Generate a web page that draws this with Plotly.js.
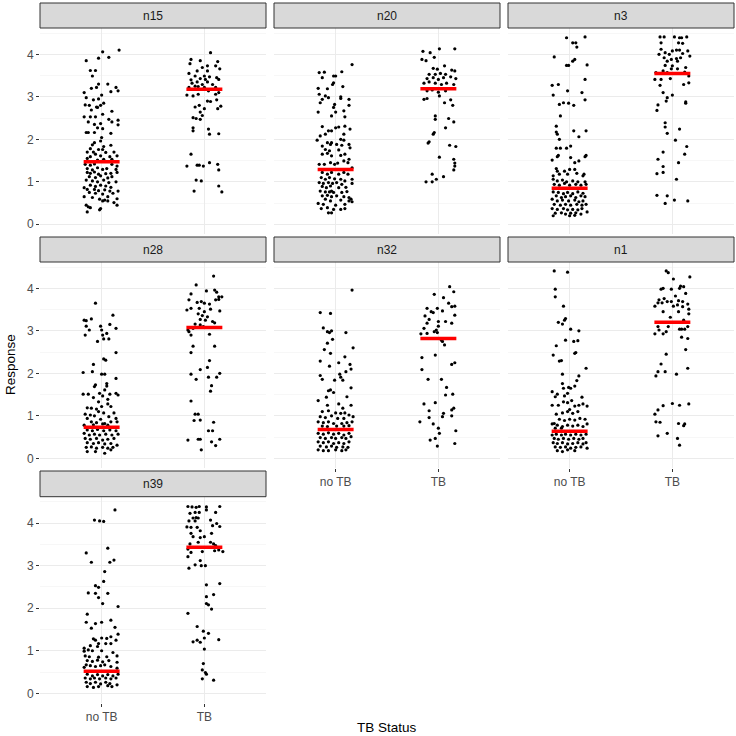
<!DOCTYPE html>
<html><head><meta charset="utf-8">
<script src="https://cdn.plot.ly/plotly-3.0.1.min.js"></script>
<style>html,body{margin:0;padding:0;background:#fff}#chart{width:736px;height:736px}</style>
</head><body><div id="chart"></div>
<script>
// ---- DATA: [jitter offset, response] per group ----
const categories = ["no TB", "TB"];
const panelNames = ["n15", "n20", "n3", "n28", "n32", "n1", "n39"];
const yTicks = [0, 1, 2, 3, 4];
const meanNoTB = [1.47, 1.29, 0.85, 0.73, 0.68, 0.64, 0.52];
const meanTB   = [3.18, 3.19, 3.55, 3.08, 2.82, 3.20, 3.43];

const n15_noTB = [[0.17,4.10],[0.01,4.06],[-0.03,3.91],[0.07,3.93],[-0.15,3.85],[-0.11,3.62],[-0.06,3.62],[-0.09,3.49],[0.06,3.30],[-0.03,3.30],[-0.10,3.20],[-0.05,3.22],[0.14,3.22],[0.16,3.14],[0.09,3.12],[-0.17,3.10],[0.00,3.04],[-0.15,2.98],[-0.03,2.95],[-0.08,2.93],[0.02,2.85],[-0.16,2.81],[-0.12,2.80],[-0.05,2.76],[-0.01,2.80],[-0.10,2.69],[-0.04,2.75],[0.10,2.66],[0.01,2.59],[-0.17,2.53],[-0.11,2.53],[-0.06,2.53],[0.07,2.47],[0.16,2.45],[0.10,2.41],[-0.13,2.41],[-0.01,2.37],[-0.07,2.35],[0.16,2.34],[-0.04,2.27],[0.01,2.25],[-0.15,2.16],[-0.13,2.16],[0.09,2.14],[-0.07,2.16],[0.00,2.04],
[-0.07,1.92],[-0.09,1.87],[-0.01,1.96],[0.02,1.83],[0.09,1.86],[-0.11,1.78],[-0.03,1.76],[0.01,1.76],[-0.14,1.70],[-0.08,1.70],[0.04,1.69],[0.12,1.70],[-0.06,1.65],[-0.01,1.61],[0.08,1.59],[0.15,1.61],[-0.11,1.59],[-0.14,1.55],[0.02,1.53],[0.10,1.53],[-0.04,1.51],
[-0.16,1.41],[-0.11,1.39],[-0.07,1.42],[0.10,1.41],[0.15,1.37],[-0.14,1.31],[-0.09,1.28],[-0.04,1.33],[0.01,1.29],[0.05,1.31],[0.14,1.29],[-0.14,1.22],[-0.11,1.20],[-0.07,1.23],[-0.03,1.18],[0.04,1.19],[0.09,1.20],[0.15,1.22],[-0.12,1.12],[-0.06,1.10],[-0.01,1.14],[0.06,1.09],[0.10,1.12],[-0.15,1.04],[-0.09,1.02],[-0.04,1.00],[0.02,1.04],[0.07,0.98],[0.14,1.00],[-0.11,0.92],[-0.06,0.89],[-0.01,0.92],[0.04,0.90],[0.09,0.87],[-0.17,0.86],[-0.14,0.82],[-0.07,0.82],[-0.03,0.79],[0.03,0.81],[0.08,0.78],[0.16,0.78],[-0.12,0.75],[-0.06,0.73],[0.01,0.71],[0.11,0.73],[-0.17,0.65],[-0.09,0.63],[0.06,0.65],[0.15,0.60],[0.01,0.55],[0.03,0.57],[0.06,0.55],[-0.02,0.59],[0.15,0.45],[-0.15,0.45],[-0.13,0.41],[-0.01,0.37],[-0.02,0.34],[-0.14,0.29],[-0.11,0.39],[0.12,0.51]];
const n15_TB = [[0.06,4.04],[-0.13,3.88],[-0.04,3.85],[0.13,3.83],[-0.14,3.78],[0.03,3.73],[0.11,3.73],[-0.02,3.69],[0.15,3.66],[-0.07,3.61],[0.03,3.61],[-0.15,3.55],[-0.09,3.49],[0.00,3.49],[0.05,3.47],[0.12,3.45],[-0.04,3.43],[-0.13,3.40],[0.01,3.41],[-0.07,3.35],[0.14,3.41],[-0.12,3.32],[-0.02,3.29],[0.08,3.29],[0.03,3.35],[-0.06,3.24],[0.11,3.22],[-0.15,3.22],[-0.09,3.25],[0.00,3.22],[0.04,3.14],[-0.06,3.06],[-0.17,3.04],[-0.11,3.02],[0.11,3.06],[0.14,3.10],[0.16,2.78],[0.03,2.90],[0.06,2.89],[0.12,2.93],[-0.09,2.76],[-0.05,2.80],[0.13,2.72],[0.00,2.72],[-0.04,2.64],[-0.02,2.56],[-0.11,2.51],[-0.08,2.49],[-0.04,2.47],[-0.11,2.27],[-0.11,2.20],[0.04,2.24],[0.05,2.12],[0.14,2.13],[-0.13,1.65],[-0.17,1.37],[-0.07,1.39],[-0.05,1.39],[-0.01,1.37],[0.05,1.45],[0.13,1.41],[0.14,1.28],[-0.08,1.04],[-0.03,1.02],[0.14,0.90],[-0.10,0.78],[0.17,0.76]];

const n20_noTB = [[0.16,3.76],[0.06,3.59],[-0.16,3.57],[-0.11,3.58],[-0.13,3.45],[-0.02,3.49],[0.00,3.49],[-0.03,3.29],[-0.02,3.33],[0.07,3.24],[-0.08,3.19],[-0.17,3.20],[-0.16,3.06],[-0.10,3.02],[-0.07,2.98],[0.05,3.00],[0.05,2.96],[-0.13,2.94],[0.13,2.94],[-0.15,2.86],[-0.01,2.82],[0.13,2.80],[-0.02,2.75],[-0.17,2.64],[0.00,2.64],[0.08,2.67],[-0.04,2.55],[0.09,2.53],[-0.13,2.30],[0.03,2.29],[0.00,2.27],[0.09,2.31],[0.14,2.24],[-0.07,2.20],[-0.04,2.20],[-0.10,2.12],[-0.15,2.08],[0.08,2.12],[-0.18,1.98],[0.05,2.00],[0.08,1.98],[-0.08,1.92],[-0.05,1.88],[-0.04,1.92],[-0.13,1.84],[0.01,1.88],[0.06,1.86],[0.13,1.88],[-0.10,1.76],[-0.06,1.73],[0.03,1.75],[0.14,1.80],[-0.13,1.65],[-0.08,1.67],[0.09,1.65],[-0.04,1.61],[0.05,1.62],[0.13,1.53],[-0.05,1.45],[0.08,1.49],[0.12,1.45],[-0.16,1.41],[-0.11,1.41],[-0.01,1.41],[0.02,1.44],[0.16,1.33],[-0.13,1.22],[-0.08,1.18],[-0.04,1.22],[0.03,1.18],[0.08,1.22],[0.12,1.18],[-0.14,1.10],[-0.10,1.06],[-0.06,1.10],[-0.01,1.07],[0.05,1.06],[0.16,1.06],[0.09,1.02],[-0.16,0.98],[-0.12,0.96],[-0.07,0.98],[-0.03,0.96],[0.01,0.98],[0.06,0.94],[0.16,0.96],[-0.13,0.89],[-0.09,0.86],[-0.05,0.90],[0.03,0.86],[0.10,0.87],[-0.15,0.78],[-0.10,0.76],[-0.06,0.76],[-0.04,0.78],[-0.02,0.75],[0.06,0.75],[0.11,0.77],[-0.13,0.67],[-0.08,0.68],[-0.04,0.65],[0.01,0.67],[0.08,0.65],[0.13,0.63],[0.15,0.59],[0.16,0.53],[0.13,0.55],[-0.10,0.59],[-0.05,0.55],[0.05,0.57],[-0.17,0.49],[-0.12,0.47],[0.00,0.45],[0.09,0.47],[-0.14,0.37],[-0.08,0.39],[-0.02,0.35],[0.05,0.35],[0.09,0.37],[-0.07,0.27],[-0.04,0.27]];
const n20_TB = [[0.01,4.13],[0.16,4.13],[-0.15,4.07],[-0.08,4.04],[-0.04,3.93],[-0.16,3.88],[-0.12,3.85],[0.06,3.73],[-0.05,3.67],[-0.01,3.65],[0.13,3.63],[0.16,3.61],[-0.09,3.53],[-0.03,3.53],[0.02,3.55],[0.07,3.53],[-0.11,3.43],[-0.05,3.45],[0.00,3.41],[0.05,3.45],[0.12,3.47],[0.17,3.43],[-0.14,3.32],[-0.09,3.35],[-0.03,3.32],[0.03,3.29],[0.08,3.32],[0.15,3.29],[-0.11,3.14],[-0.06,3.16],[0.00,3.11],[0.07,3.14],[0.01,3.02],[-0.14,2.94],[-0.11,2.96],[0.06,2.86],[0.12,2.93],[0.14,2.80],[-0.03,2.55],[-0.03,2.47],[0.10,2.49],[0.15,2.41],[0.07,2.27],[-0.04,2.16],[-0.05,2.12],[-0.09,1.94],[-0.10,1.91],[0.11,1.86],[0.17,1.83],[0.01,1.58],[0.15,1.53],[0.16,1.44],[0.16,1.37],[0.15,1.28],[-0.06,1.18],[-0.02,1.06],[0.05,1.12],[-0.12,1.00],[-0.06,1.00]];

const n3_noTB = [[-0.03,4.39],[0.15,4.41],[0.03,4.27],[0.06,4.27],[0.07,4.17],[-0.15,3.94],[0.05,3.88],[0.03,3.84],[-0.03,3.74],[-0.01,3.74],[0.17,3.75],[0.15,3.41],[-0.17,3.27],[-0.11,3.29],[-0.02,3.14],[0.12,3.10],[-0.16,3.04],[0.15,2.93],[-0.10,2.82],[-0.06,2.86],[-0.01,2.85],[0.04,2.80],[-0.09,2.55],[-0.13,2.31],[-0.13,2.17],[-0.12,2.12],[-0.10,2.00],[0.04,2.20],[0.09,2.06],[0.16,2.20],[-0.13,1.79],[-0.09,1.79],[-0.03,1.79],[0.01,1.84],[-0.11,1.62],[-0.12,1.59],[0.16,1.62],[0.15,1.59],[-0.17,1.51],[0.01,1.57],[0.09,1.49],[0.05,1.45],[-0.13,1.31],[-0.12,1.25],[-0.05,1.25],[0.00,1.29],[0.05,1.29],[-0.02,1.18],[0.07,1.20],[0.13,1.14],[-0.16,1.14],[-0.10,1.18],[0.14,1.18],
[-0.16,1.06],[-0.12,1.02],[-0.07,1.04],[-0.03,1.00],[0.03,1.02],[0.08,1.00],[0.15,1.00],[-0.15,0.94],[-0.10,0.92],[-0.05,0.96],[0.00,0.92],[0.06,0.94],[0.11,0.92],[0.16,0.94],[-0.16,0.76],[-0.11,0.75],[-0.06,0.72],[-0.02,0.75],[0.03,0.72],[0.08,0.76],[0.13,0.73],[-0.13,0.67],[-0.08,0.63],[-0.04,0.65],[0.01,0.67],[0.06,0.63],[0.11,0.67],[0.15,0.65],[-0.17,0.59],[-0.12,0.55],[-0.07,0.57],[-0.01,0.55],[0.05,0.57],[0.09,0.53],[0.13,0.55],[-0.15,0.47],[-0.09,0.45],[-0.04,0.47],[0.01,0.45],[0.07,0.47],[0.12,0.45],[0.16,0.47],[-0.17,0.37],[-0.12,0.35],[-0.06,0.37],[-0.02,0.34],[0.03,0.35],[0.08,0.34],[0.12,0.37],[0.17,0.29],[-0.14,0.26],[-0.08,0.27],[-0.04,0.24],[0.01,0.26],[0.06,0.27],[0.11,0.24],[-0.16,0.20],[0.00,0.20],[0.05,0.21]];
const n3_TB = [[-0.12,4.41],[-0.08,4.41],[0.02,4.41],[0.07,4.39],[0.09,4.39],[0.14,4.41],[-0.11,4.27],[0.06,4.27],[0.10,4.26],[-0.11,4.12],[0.00,4.08],[0.04,4.10],[0.07,4.10],[0.15,4.08],[-0.13,4.00],[-0.07,4.04],[-0.03,4.00],[0.10,4.02],[0.17,3.96],[-0.08,3.92],[-0.01,3.88],[0.04,3.90],[0.08,3.92],[-0.05,3.84],[0.05,3.84],[-0.07,3.74],[0.00,3.73],[0.13,3.69],[-0.01,3.66],[0.05,3.66],[-0.09,3.61],[-0.16,3.57],[-0.05,3.57],[0.12,3.58],[0.16,3.49],[-0.17,3.41],[-0.11,3.41],[-0.02,3.43],[-0.12,3.27],[0.11,3.29],[0.16,3.33],[-0.09,3.10],[0.00,3.04],[-0.05,2.98],[-0.06,2.90],[0.13,2.88],[0.13,2.85],[-0.14,2.81],[-0.15,2.68],[-0.07,2.39],[-0.07,2.29],[-0.05,2.14],[0.07,2.24],[0.03,1.98],[0.14,1.83],[-0.09,1.70],[0.12,1.65],[-0.14,1.53],[0.06,1.45],[-0.09,1.36],[-0.15,1.19],[-0.09,1.22],[0.04,1.06],[-0.15,0.68],[-0.05,0.67],[-0.07,0.49],[0.02,0.57],[0.15,0.55]];

const n28_noTB = [[-0.06,3.65],[0.11,3.37],[-0.17,3.25],[-0.15,3.24],[-0.10,3.28],[-0.15,3.11],[-0.12,3.02],[-0.01,3.11],[0.08,3.15],[0.00,3.02],[0.05,2.94],[-0.16,2.90],[0.01,2.90],[0.14,3.06],[0.02,2.81],[0.07,2.81],[-0.04,2.75],[0.14,2.49],[0.02,2.34],[0.04,2.31],[-0.08,2.21],[-0.18,2.02],[-0.09,2.04],[0.00,1.98],[0.03,1.98],[0.14,1.88],[0.05,1.76],[-0.07,1.69],[-0.06,1.73],[0.05,1.70],[0.03,1.61],[-0.18,1.51],[-0.13,1.51],[-0.02,1.53],[0.01,1.47],[0.08,1.51],[0.16,1.49],[0.14,1.53],[-0.08,1.43],[-0.03,1.33],[0.06,1.39],[-0.14,1.19],[-0.10,1.18],[-0.05,1.16],[0.00,1.22],[0.06,1.28],[0.09,1.22],[-0.03,1.10],[0.02,1.07],[-0.16,1.04],[-0.11,1.02],[-0.07,1.00],[0.12,1.07],[0.07,0.98],[-0.14,0.94],[-0.01,0.92],[0.14,0.94],[0.15,0.86],[-0.10,0.86],[-0.05,0.84],[0.03,0.82],[0.09,0.86],[-0.17,0.78],[-0.08,0.79],[0.01,0.81],[0.06,0.78],
[-0.14,0.67],[-0.09,0.65],[-0.04,0.68],[0.02,0.65],[0.08,0.67],[0.14,0.65],[-0.17,0.59],[-0.12,0.55],[-0.07,0.57],[-0.02,0.55],[0.04,0.57],[0.10,0.55],[0.16,0.57],[-0.16,0.47],[-0.11,0.45],[-0.05,0.47],[0.01,0.43],[0.06,0.45],[0.12,0.47],[-0.14,0.37],[-0.08,0.35],[-0.03,0.37],[0.03,0.34],[0.09,0.35],[0.15,0.31],[-0.15,0.26],[-0.10,0.27],[-0.05,0.24],[0.01,0.26],[0.06,0.24],[0.11,0.26],[-0.14,0.16],[-0.06,0.16],[0.03,0.12],[0.09,0.20]];
const n28_TB = [[0.09,4.29],[-0.08,4.08],[-0.13,3.87],[0.02,3.94],[0.10,3.96],[0.12,3.91],[-0.15,3.73],[0.14,3.80],[0.17,3.80],[-0.07,3.67],[-0.03,3.69],[0.00,3.65],[0.05,3.63],[0.11,3.73],[0.14,3.74],[-0.17,3.49],[-0.13,3.53],[-0.05,3.53],[0.00,3.45],[0.06,3.51],[0.15,3.47],[-0.06,3.40],[-0.02,3.36],[0.03,3.33],[-0.04,3.27],[0.01,3.25],[0.08,3.22],[0.10,3.19],[-0.09,3.16],[-0.04,3.14],[-0.01,3.10],[-0.11,3.06],[-0.16,3.02],[-0.15,2.98],[-0.13,2.90],[0.05,2.92],[-0.11,2.64],[0.10,2.64],[-0.13,2.49],[0.05,2.30],[-0.04,2.09],[0.03,2.14],[-0.13,1.98],[-0.08,1.86],[0.04,1.91],[0.12,1.91],[0.15,2.00],[0.07,1.71],[0.06,1.58],[-0.13,1.35],[-0.09,1.04],[-0.06,1.04],[-0.10,0.89],[-0.04,0.90],[0.09,0.85],[0.04,0.65],[0.08,0.65],[-0.16,0.43],[-0.06,0.45],[-0.04,0.45],[0.07,0.39],[0.15,0.45],[0.11,0.30],[-0.03,0.20]];

const n32_noTB = [[0.16,3.96],[-0.15,3.43],[-0.05,3.41],[-0.12,3.07],[-0.08,2.98],[-0.06,2.96],[-0.04,3.00],[0.10,2.96],[-0.03,2.80],[-0.08,2.71],[-0.11,2.56],[-0.05,2.47],[0.17,2.60],[-0.15,2.29],[-0.06,2.17],[0.03,2.25],[0.09,2.39],[0.14,2.21],[0.15,2.10],[-0.15,1.95],[-0.13,1.86],[-0.01,1.84],[0.04,1.98],[0.05,1.91],[0.10,2.04],[0.07,1.84],[0.15,1.66],[-0.07,1.59],[-0.05,1.61],[-0.02,1.55],[-0.09,1.44],[-0.17,1.36],[0.11,1.45],[-0.08,1.25],[0.03,1.28],[0.07,1.18],[0.15,1.25],[-0.13,1.10],[-0.07,1.12],[0.00,1.07],[0.05,1.06],[0.09,1.07],[0.13,1.02],[0.17,0.98],[-0.15,0.98],[-0.10,0.96],[-0.04,1.00],[0.02,0.94],[0.08,0.94],[-0.17,0.86],[-0.12,0.84],[-0.07,0.86],[-0.02,0.82],[0.06,0.82],[0.11,0.84],[0.16,0.86],[-0.13,0.76],[-0.08,0.75],[0.01,0.76],[0.08,0.76],[0.13,0.77],
[-0.17,0.59],[-0.12,0.57],[-0.07,0.60],[-0.02,0.57],[0.03,0.59],[0.08,0.55],[0.13,0.59],[-0.15,0.49],[-0.10,0.47],[-0.04,0.49],[0.00,0.47],[0.06,0.49],[0.10,0.47],[0.15,0.51],[-0.17,0.39],[-0.12,0.37],[-0.07,0.39],[-0.02,0.35],[0.03,0.37],[0.08,0.35],[0.13,0.39],[-0.15,0.29],[-0.09,0.27],[-0.04,0.29],[0.01,0.26],[0.07,0.27],[0.12,0.26],[-0.17,0.20],[-0.12,0.18],[-0.07,0.18],[0.00,0.20],[0.06,0.18],[0.10,0.20]];
const n32_TB = [[0.11,4.04],[0.15,3.92],[-0.04,3.86],[0.05,3.78],[-0.11,3.53],[-0.01,3.53],[0.16,3.58],[0.10,3.65],[0.13,3.57],[-0.07,3.45],[-0.05,3.43],[0.04,3.47],[-0.13,3.35],[0.16,3.37],[-0.09,3.27],[0.00,3.22],[0.07,3.22],[0.13,3.18],[-0.11,3.18],[-0.14,3.06],[-0.02,3.02],[0.00,3.11],[-0.17,2.93],[-0.11,2.94],[-0.04,2.98],[-0.01,2.96],[0.04,2.75],[0.06,2.67],[0.03,2.78],[-0.03,2.43],[-0.16,2.37],[0.16,2.25],[0.13,2.21],[-0.16,2.09],[-0.10,1.86],[0.03,1.86],[0.08,1.67],[0.07,1.49],[0.14,1.51],[-0.14,1.28],[-0.03,1.31],[0.15,1.18],[0.13,1.14],[-0.09,1.12],[0.05,1.06],[0.13,1.00],[-0.18,0.86],[-0.05,0.81],[0.00,0.71],[0.04,0.98],[-0.09,0.96],[0.01,0.59],[0.17,0.65],[-0.08,0.43],[-0.03,0.47],[-0.01,0.29],[0.16,0.35]];

const n1_noTB = [[-0.15,4.41],[-0.02,4.38],[-0.14,3.98],[-0.14,3.80],[-0.06,3.58],[-0.11,3.20],[-0.07,3.16],[-0.05,3.25],[-0.04,3.29],[0.01,3.04],[0.09,3.00],[-0.13,2.65],[-0.04,2.78],[0.04,2.75],[0.08,2.77],[-0.16,2.43],[0.05,2.47],[0.06,2.49],[-0.10,2.29],[-0.08,2.30],[0.16,2.12],[-0.07,1.98],[0.09,1.94],[0.07,1.83],[0.05,1.70],[-0.07,1.76],[-0.06,1.65],[-0.01,1.67],[-0.17,1.57],[0.01,1.65],[-0.12,1.51],[-0.14,1.45],[-0.05,1.47],[-0.02,1.53],[0.12,1.44],[-0.17,1.25],[-0.11,1.25],[-0.06,1.33],[-0.02,1.31],[0.02,1.36],[0.05,1.23],[0.09,1.25],[0.13,1.28],[0.17,1.23],[-0.13,1.04],[-0.07,1.07],[-0.02,1.10],[0.03,1.06],[0.08,1.10],[0.00,1.15],[-0.17,0.81],[-0.15,0.82],[-0.10,0.92],[-0.05,0.89],[0.00,0.92],[0.05,0.90],[0.10,0.94],[0.15,0.92],[-0.12,0.78],[-0.07,0.75],[-0.02,0.78],[0.03,0.76],[0.08,0.78],[0.13,0.75],[0.17,0.81],[-0.14,0.71],[-0.08,0.71],
[-0.17,0.55],[-0.13,0.57],[-0.08,0.55],[-0.04,0.57],[0.01,0.55],[0.06,0.57],[0.11,0.55],[0.16,0.57],[-0.15,0.47],[-0.11,0.45],[-0.06,0.47],[-0.01,0.45],[0.04,0.47],[0.09,0.45],[0.13,0.47],[-0.16,0.37],[-0.12,0.35],[-0.07,0.37],[-0.02,0.34],[0.03,0.35],[0.08,0.37],[0.13,0.34],[0.16,0.37],[-0.14,0.27],[-0.09,0.26],[-0.04,0.27],[0.01,0.24],[0.06,0.26],[0.11,0.27],[0.17,0.24],[-0.12,0.18],[-0.07,0.16],[-0.02,0.20],[0.05,0.18]];
const n1_TB = [[-0.06,4.41],[-0.04,4.37],[0.17,4.27],[0.01,4.22],[-0.11,3.98],[-0.09,4.00],[-0.01,3.98],[0.08,4.05],[0.11,4.04],[0.07,4.00],[0.13,3.88],[0.03,3.82],[-0.13,3.73],[-0.08,3.76],[-0.05,3.69],[-0.01,3.69],[-0.14,3.66],[-0.10,3.66],[0.06,3.71],[0.10,3.69],[0.15,3.63],[-0.17,3.58],[0.01,3.58],[0.05,3.61],[0.10,3.57],[0.16,3.51],[-0.09,3.45],[0.06,3.45],[0.16,3.40],[-0.02,3.32],[0.11,3.25],[0.15,3.10],[0.07,3.04],[0.09,3.04],[0.12,3.04],[-0.17,2.93],[-0.13,3.02],[-0.09,2.93],[-0.06,2.98],[-0.04,3.10],[-0.14,3.10],[0.09,2.85],[0.15,2.82],[0.13,2.56],[-0.06,2.45],[-0.11,2.22],[0.15,2.12],[-0.16,1.94],[-0.14,2.04],[-0.07,2.04],[0.04,1.98],[-0.09,1.24],[0.00,1.29],[0.07,1.25],[0.16,1.28],[-0.17,1.04],[-0.14,1.14],[-0.16,0.86],[-0.12,0.85],[0.06,0.82],[0.11,0.77],[0.12,0.81],[-0.14,0.53],[-0.05,0.59],[0.05,0.47],[0.07,0.31]];

const n39_noTB = [[0.13,4.31],[-0.07,4.07],[-0.02,4.05],[0.02,4.04],[0.06,3.41],[-0.15,3.30],[-0.10,3.08],[0.08,3.08],[0.12,3.13],[0.03,2.86],[0.02,2.63],[-0.06,2.53],[-0.03,2.49],[-0.13,2.36],[-0.06,2.35],[0.06,2.35],[-0.03,2.25],[0.01,2.11],[0.16,2.04],[-0.14,1.86],[-0.15,1.67],[-0.06,1.64],[0.00,1.67],[0.09,1.72],[-0.10,1.53],[0.13,1.55],[-0.06,1.25],[-0.08,1.28],[0.00,1.30],[0.05,1.29],[0.09,1.33],[0.16,1.39],[-0.03,1.17],[0.04,1.17],[0.09,1.17],[0.14,1.25],[-0.11,1.12],[-0.04,1.10],[-0.17,1.06],[-0.13,1.02],[-0.09,1.00],[-0.17,0.99],[0.00,1.00],[0.11,0.96],[-0.16,0.88],[-0.12,0.86],[-0.03,0.85],[0.05,0.86],[0.15,0.88],[-0.14,0.77],[-0.09,0.75],[-0.04,0.78],[0.01,0.74],[0.07,0.77],[0.15,0.73],[-0.15,0.67],[-0.11,0.65],[-0.06,0.63],[-0.01,0.65],[0.03,0.67],[0.09,0.63],[-0.17,0.61],[0.15,0.59],
[-0.14,0.45],[-0.09,0.41],[-0.04,0.44],[0.01,0.41],[0.06,0.44],[0.11,0.41],[0.16,0.45],[-0.16,0.36],[-0.11,0.34],[-0.07,0.36],[-0.02,0.34],[0.04,0.36],[0.09,0.34],[0.14,0.36],[-0.15,0.26],[-0.11,0.23],[-0.06,0.26],[-0.01,0.22],[0.04,0.26],[0.08,0.23],[0.15,0.20],[-0.14,0.16],[-0.08,0.14],[-0.03,0.16],[0.06,0.18],[0.10,0.16]];
const n39_TB = [[-0.16,4.39],[-0.12,4.38],[-0.08,4.37],[-0.05,4.39],[0.02,4.38],[0.15,4.39],[-0.14,4.23],[-0.09,4.25],[-0.05,4.25],[0.02,4.31],[0.11,4.25],[-0.11,4.12],[-0.08,4.13],[-0.06,4.12],[-0.15,4.05],[-0.09,4.05],[0.06,4.07],[0.08,3.94],[0.12,3.99],[0.15,3.92],[-0.17,3.91],[-0.13,3.90],[-0.07,3.90],[-0.04,3.82],[-0.13,3.76],[0.07,3.76],[-0.04,3.66],[0.00,3.68],[-0.11,3.68],[0.06,3.55],[0.09,3.51],[0.11,3.47],[-0.14,3.51],[-0.06,3.55],[-0.16,3.39],[-0.02,3.33],[0.10,3.35],[0.14,3.37],[0.18,3.33],[-0.16,3.21],[-0.13,3.31],[-0.04,3.12],[-0.09,3.02],[-0.03,3.00],[0.01,3.00],[-0.15,2.94],[0.02,2.55],[0.15,2.58],[0.09,2.32],[0.02,2.27],[0.02,2.11],[0.04,2.08],[0.07,1.98],[-0.16,1.88],[-0.07,1.57],[-0.01,1.46],[0.04,1.41],[0.00,1.30],[-0.11,1.21],[-0.07,1.25],[-0.04,1.20],[0.14,1.26],[0.00,1.04],[-0.01,0.70],[-0.02,0.55],[0.01,0.49],[0.02,0.45],[-0.02,0.34],[0.09,0.31]];

const groupsNoTB = [n15_noTB, n20_noTB, n3_noTB, n28_noTB, n32_noTB, n1_noTB, n39_noTB];
const groupsTB   = [n15_TB, n20_TB, n3_TB, n28_TB, n32_TB, n1_TB, n39_TB];

// ---- LAYOUT GEOMETRY ----
const W = 736, H = 736;
const colPx = [[40, 266], [274, 500], [508, 734]];
const rowPx = [[28, 233.6], [262, 467.7], [496.7, 702.7]];
const stripPx = [[3, 28], [237, 262], [471, 496.7]];
const pos = [[0,0],[0,1],[0,2],[1,0],[1,1],[1,2],[2,0]]; // [row,col]
const bottomPanels = [4, 5, 6]; // n32, n1, n39 show x tick labels

const fontFam = "Liberation Sans, Arial, Helvetica, sans-serif";
const tickGrey = "#4d4d4d";
const traces = [], shapes = [], annotations = [];
const layout = {
  template: {layout: {font: {color: tickGrey}}},
  width: W, height: H, margin: {l:0, r:0, t:0, b:0},
  paper_bgcolor: "#ffffff", plot_bgcolor: "#ffffff", showlegend: false,
  font: {family: fontFam, color: tickGrey, size: 12}
};

panelNames.forEach((name, i) => {
  const [r, c] = pos[i];
  const sfx = i === 0 ? "" : String(i + 1);
  const xa = "x" + sfx, ya = "y" + sfx;
  const xd = [colPx[c][0] / W, colPx[c][1] / W];
  const yd = [1 - rowPx[r][1] / H, 1 - rowPx[r][0] / H];
  const showX = bottomPanels.includes(i);
  const showY = c === 0;
  layout["xaxis" + sfx] = {
    domain: xd, anchor: ya, range: [0.4, 2.6], color: tickGrey,
    tickmode: "array", tickvals: [1, 2], ticktext: categories,
    showticklabels: showX, ticks: showX ? "outside" : "", ticklen: 3, tickcolor: "#333333", tickwidth: 1,
    showgrid: true, gridcolor: "#ebebeb", gridwidth: 1, zeroline: false, showline: false, fixedrange: true,
    tickfont: {family: fontFam, size: 12, color: tickGrey}
  };
  layout["yaxis" + sfx] = {
    domain: yd, anchor: xa, range: [-0.22, 4.62], color: tickGrey,
    tickmode: "array", tickvals: yTicks, ticktext: yTicks.map(String),
    showticklabels: showY, ticks: showY ? "outside" : "", ticklen: 3, tickcolor: "#333333", tickwidth: 1,
    showgrid: true, gridcolor: "#ebebeb", gridwidth: 1, zeroline: false, showline: false, fixedrange: true,
    minor: {tickmode: "array", tickvals: [0.5, 1.5, 2.5, 3.5, 4.5], showgrid: true, gridcolor: "#f2f2f2", gridwidth: 0.6, ticks: ""},
    tickfont: {family: fontFam, size: 12, color: tickGrey}
  };
  [groupsNoTB[i], groupsTB[i]].forEach((grp, g) => {
    traces.push({
      type: "scatter", mode: "markers", xaxis: xa, yaxis: ya,
      x: grp.map(p => g + 1 + p[0]), y: grp.map(p => p[1]),
      marker: {color: "#000000", size: 3.2}, hoverinfo: "skip"
    });
  });
  [meanNoTB[i], meanTB[i]].forEach((m, g) => {
    traces.push({
      type: "scatter", mode: "lines", xaxis: xa, yaxis: ya,
      x: [g + 1 - 0.175, g + 1 + 0.175], y: [m, m],
      line: {color: "#ff0000", width: 3.5}, hoverinfo: "skip"
    });
  });
  shapes.push({
    type: "rect", xref: "paper", yref: "paper",
    x0: xd[0], x1: xd[1], y0: 1 - stripPx[r][1] / H, y1: 1 - stripPx[r][0] / H,
    fillcolor: "#d9d9d9", line: {color: "#333333", width: 1}, layer: "above"
  });
  annotations.push({
    xref: "paper", yref: "paper", x: (xd[0] + xd[1]) / 2,
    y: 1 - (stripPx[r][0] + stripPx[r][1]) / 2 / H,
    text: name, showarrow: false, xanchor: "center", yanchor: "middle",
    font: {family: fontFam, size: 12, color: "#1a1a1a"}
  });
});

annotations.push({
  xref: "paper", yref: "paper", x: 10 / W, y: 1 - 365 / H, text: "Response", textangle: -90,
  showarrow: false, xanchor: "center", yanchor: "middle", font: {family: fontFam, size: 13.5, color: "#000000"}
});
annotations.push({
  xref: "paper", yref: "paper", x: 387 / W, y: 1 - 727 / H, text: "TB Status",
  showarrow: false, xanchor: "center", yanchor: "middle", font: {family: fontFam, size: 13.5, color: "#000000"}
});
layout.shapes = shapes;
layout.annotations = annotations;

Plotly.newPlot("chart", traces, layout, {staticPlot: true, displayModeBar: false});
</script></body></html>
